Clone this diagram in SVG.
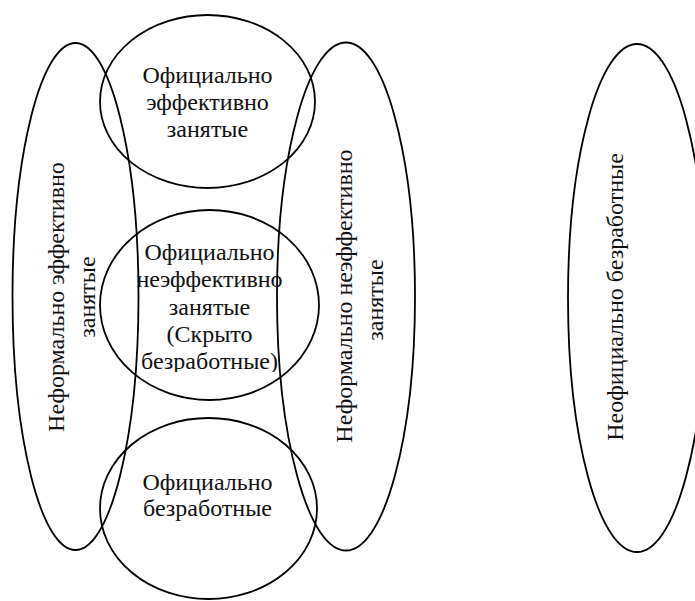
<svg xmlns="http://www.w3.org/2000/svg" width="695" height="601" viewBox="0 0 695 601">
<style>
.sh{fill:none;stroke:#000;stroke-width:1.8}
text{font-family:'Liberation Serif','Times New Roman',serif;font-size:24px;fill:#111;text-anchor:middle}
</style>
<defs>
<clipPath id="midclip"><rect x="100" y="200" width="220" height="172"/></clipPath>
</defs>
<rect width="695" height="601" fill="#fff"/>
<g id="informal-effective">
<ellipse class="sh" cx="75.5" cy="296.5" rx="63" ry="253.5"/>
<text transform="translate(64,297) rotate(-90)">Неформально эффективно</text>
<text transform="translate(95,297) rotate(-90)">занятые</text>
</g>
<g id="informal-ineffective">
<ellipse class="sh" cx="346" cy="296.5" rx="69" ry="254"/>
<text transform="translate(352,296) rotate(-90)">Неформально неэффективно</text>
<text transform="translate(383,300) rotate(-90)">занятые</text>
</g>
<g id="unofficial-unemployed">
<ellipse class="sh" cx="637" cy="298" rx="69" ry="254"/>
<text transform="translate(623,297) rotate(-90)">Неофициально безработные</text>
</g>
<g id="official-effective">
<ellipse class="sh" cx="207.5" cy="101.5" rx="107.5" ry="86.5"/>
<text x="207.5" y="83">Официально</text>
<text x="207.5" y="110">эффективно</text>
<text x="207.5" y="137">занятые</text>
</g>
<g id="official-ineffective">
<ellipse class="sh" cx="209.5" cy="305" rx="109.5" ry="95"/>
<g clip-path="url(#midclip)">
<text x="209.5" y="260">Официально</text>
<text x="209.5" y="287">неэффективно</text>
<text x="209.5" y="315">занятые</text>
<text x="209.5" y="342">(Скрыто</text>
<text x="209.5" y="369">безработные)</text>
</g>
</g>
<g id="official-unemployed">
<ellipse class="sh" cx="208.5" cy="508.5" rx="108.5" ry="90.5"/>
<text x="207.5" y="490">Официально</text>
<text x="207.5" y="516">безработные</text>
</g>
<g id="connectors"/>
</svg>
